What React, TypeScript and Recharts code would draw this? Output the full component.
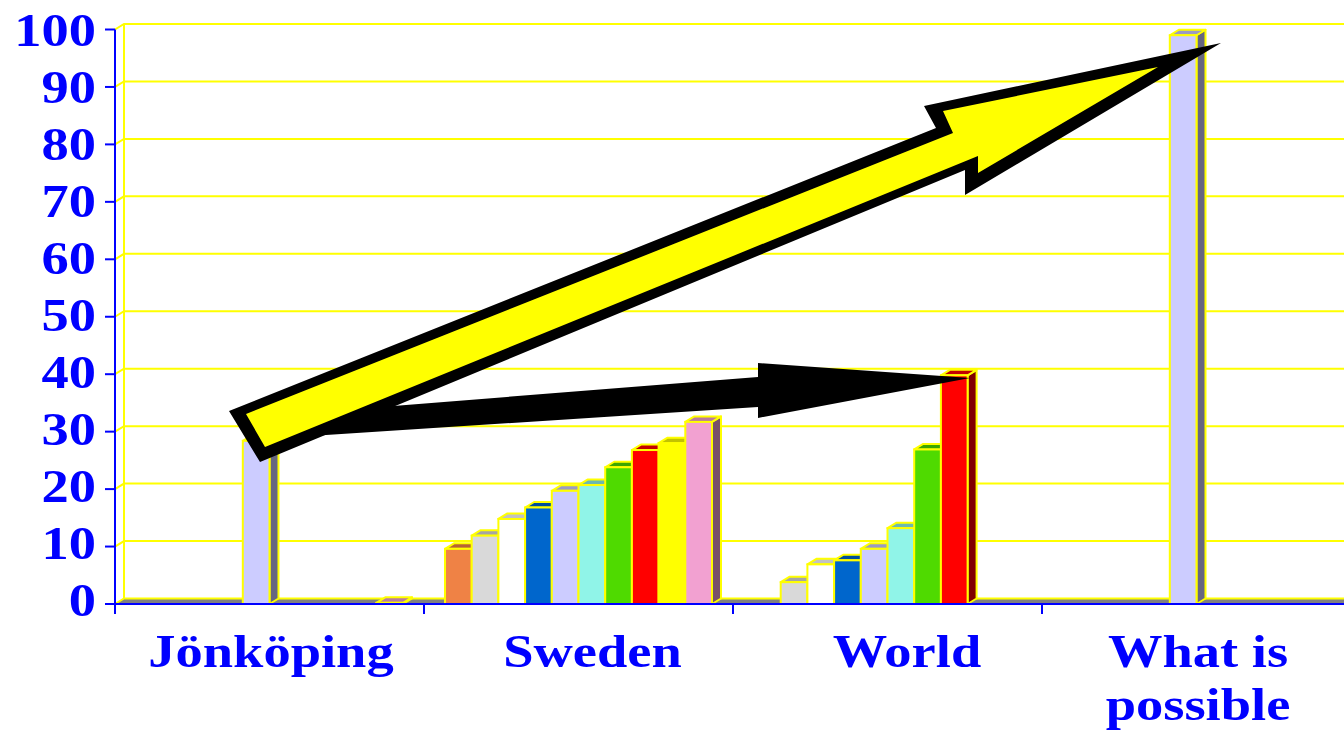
import React from 'react';
import { BarChart, Bar, XAxis, YAxis, CartesianGrid } from 'recharts';

// ---------- data ----------
const CATEGORIES = ['Jönköping', 'Sweden', 'World', 'What is possible'];
const CATEGORY_LINES = [['Jönköping'], ['Sweden'], ['World'], ['What is', 'possible']];
const Y_TICKS = [0, 10, 20, 30, 40, 50, 60, 70, 80, 90, 100];

const ORANGE_VALUES = [null, 9.6, null, null];
const LIGHTGRAY_VALUES = [null, 11.9, 3.8, null];
const WHITE_VALUES = [null, 14.8, 6.9, null];
const BLUE_VALUES = [null, 16.8, 7.6, null];
const LAVENDER_VALUES = [28.4, 19.7, 9.6, 99];
const CYAN_VALUES = [null, 20.7, 13.2, null];
const GREEN_VALUES = [null, 23.8, 26.9, null];
const RED_VALUES = [null, 26.8, 39.8, null];
const YELLOW_VALUES = [null, 28.0, null, null];
const PINK_VALUES = [0.2, 31.7, null, null];

const SERIES = [
  { key: 's1', color: '#EF8245', values: ORANGE_VALUES },
  { key: 's2', color: '#D9D9D9', values: LIGHTGRAY_VALUES },
  { key: 's3', color: '#FFFFFF', values: WHITE_VALUES },
  { key: 's4', color: '#0066CC', values: BLUE_VALUES },
  { key: 's5', color: '#CCCCFF', values: LAVENDER_VALUES },
  { key: 's6', color: '#90F4E8', values: CYAN_VALUES },
  { key: 's7', color: '#4FDA00', values: GREEN_VALUES },
  { key: 's8', color: '#FF0000', values: RED_VALUES },
  { key: 's9', color: '#FFFF00', values: YELLOW_VALUES },
  { key: 's10', color: '#F2A1D1', values: PINK_VALUES },
];

const data = CATEGORIES.map((c, i) => {
  const row: any = { category: c };
  SERIES.forEach((s) => {
    row[s.key] = s.values[i];
  });
  return row;
});

// annotation arrows (overlay drawing, pixel space)
const BLACK_ARROW = [[280, 415], [758, 377], [758, 363], [970, 378], [758, 418], [758, 407], [280, 438]];
const YELLOW_ARROW_OUTER = [[229, 411], [936, 128], [924, 106], [1221, 43], [965, 195], [965, 170], [260, 462]];
const YELLOW_ARROW_INNER = [[246, 414], [953, 133], [943, 111], [1158, 67], [978, 173], [978, 156], [265, 447]];

// ---------- layout ----------
const CHART_W = 1360;
const CHART_H = 731;
const PLOT_LEFT = 115;
const PLOT_TOP = 29.5;
const PLOT_BOTTOM = 604;
const PLOT_RIGHT = 1351;
const BAND = (PLOT_RIGHT - PLOT_LEFT) / CATEGORIES.length;
const DX = 9;
const DY = 5.5;
const FONT = '"Liberation Serif", "Times New Roman", serif';
const FONT_SIZE = 47;
const SX = 1.16;
const LABEL_SCALE = 570 / 574.5;
const X_LABEL_SHIFT = [1.5, 14, 19.5, 1.5];
const BLUE = '#0000FF';
const GRID_YELLOW = '#FFFF00';

function shade(hex: string, f: number) {
  const n = parseInt(hex.slice(1), 16);
  const r = Math.round(((n >> 16) & 255) * f);
  const g = Math.round(((n >> 8) & 255) * f);
  const b = Math.round((n & 255) * f);
  return `rgb(${r},${g},${b})`;
}

const Bar3D = (props: any) => {
  const { x, y, width, height, fill, value } = props;
  if (value == null || height == null || !(height > 0)) return null;
  const top = shade(fill, 0.76);
  const side = shade(fill, 0.5);
  const r = x + width;
  const b = y + height;
  return (
    <g>
      <polygon
        points={`${r},${y} ${r + DX},${y - DY} ${r + DX},${b - DY} ${r},${b}`}
        fill={side}
        stroke={GRID_YELLOW}
        strokeWidth={2}
        strokeLinejoin="round"
      />
      <polygon
        points={`${x},${y} ${x + DX},${y - DY} ${r + DX},${y - DY} ${r},${y}`}
        fill={top}
        stroke={GRID_YELLOW}
        strokeWidth={2}
        strokeLinejoin="round"
      />
      <rect x={x} y={y} width={width} height={height} fill={fill} stroke={GRID_YELLOW} strokeWidth={2} />
    </g>
  );
};

const gridLine = (p: any) => {
  const { x1, y1, x2 } = p;
  const isBottom = Math.abs(y1 - PLOT_BOTTOM) < 1;
  const isTop = Math.abs(y1 - PLOT_TOP) < 1;
  return (
    <g key={p.key}>
      {isBottom && (
        <polygon
          points={`${x1},${y1} ${x1 + DX},${y1 - DY} ${x2},${y1 - DY} ${x2},${y1}`}
          fill="#808080"
        />
      )}
      <polyline
        points={`${x1},${y1} ${x1 + DX},${y1 - DY} ${x2},${y1 - DY}`}
        fill="none"
        stroke={GRID_YELLOW}
        strokeWidth={2}
      />
      {isTop && (
        <line
          x1={x1 + DX}
          y1={y1 - DY}
          x2={x1 + DX}
          y2={PLOT_BOTTOM - DY}
          stroke={GRID_YELLOW}
          strokeWidth={2}
        />
      )}
    </g>
  );
};

const YTick = (p: any) => {
  const { y, payload } = p;
  const ly = PLOT_TOP + (y - PLOT_TOP) * LABEL_SCALE;
  return (
    <g transform={`translate(${PLOT_LEFT - 19},${ly + 16}) scale(${SX},1)`}>
      <text
        x={0}
        y={0}
        textAnchor="end"
        fontFamily={FONT}
        fontWeight="bold"
        fontSize={FONT_SIZE}
        fill={BLUE}
      >
        {payload.value}
      </text>
    </g>
  );
};

const XTick = (p: any) => {
  const { x, payload } = p;
  const idx = CATEGORIES.indexOf(payload.value);
  const lines = CATEGORY_LINES[idx] || [String(payload.value)];
  const shift = X_LABEL_SHIFT[idx] || 0;
  return (
    <g>
      <line x1={x - BAND / 2} y1={PLOT_BOTTOM} x2={x - BAND / 2} y2={PLOT_BOTTOM + 10} stroke={BLUE} strokeWidth={2} />
      {idx === CATEGORIES.length - 1 && (
        <line x1={x + BAND / 2} y1={PLOT_BOTTOM} x2={x + BAND / 2} y2={PLOT_BOTTOM + 10} stroke={BLUE} strokeWidth={2} />
      )}
      {lines.map((l, i) => (
        <g key={i} transform={`translate(${x + shift},${PLOT_BOTTOM + 63 + i * 53}) scale(${SX},1)`}>
          <text x={0} y={0} textAnchor="middle" fontFamily={FONT} fontWeight="bold" fontSize={FONT_SIZE} fill={BLUE}>
            {l}
          </text>
        </g>
      ))}
    </g>
  );
};

const pts = (a: number[][]) => a.map((q) => q.join(',')).join(' ');

export default function App() {
  return (
    <div
      style={{
        position: 'absolute',
        left: 0,
        top: 0,
        width: 1344,
        height: 731,
        overflow: 'hidden',
        background: '#FFFFFF',
      }}
    >
      <BarChart
        width={CHART_W}
        height={CHART_H}
        data={data}
        margin={{ top: PLOT_TOP, right: CHART_W - PLOT_RIGHT, left: 0, bottom: 0 }}
        barGap={0}
        barSize={26.7}
      >
        <CartesianGrid horizontal={gridLine} vertical={false} />
        {SERIES.map((s) => (
          <Bar key={s.key} dataKey={s.key} fill={s.color} shape={Bar3D} isAnimationActive={false} />
        ))}
        <XAxis
          dataKey="category"
          height={CHART_H - PLOT_BOTTOM}
          interval={0}
          tickLine={false}
          axisLine={{ stroke: BLUE, strokeWidth: 2 }}
          tick={XTick}
        />
        <YAxis
          width={PLOT_LEFT}
          domain={[0, 100]}
          ticks={Y_TICKS}
          interval={0}
          tickSize={10}
          tickLine={{ stroke: BLUE, strokeWidth: 2 }}
          axisLine={{ stroke: BLUE, strokeWidth: 2 }}
          tick={YTick}
        />
      </BarChart>
      <svg
        width={1344}
        height={731}
        style={{ position: 'absolute', left: 0, top: 0, pointerEvents: 'none' }}
      >
        <polygon points={pts(BLACK_ARROW)} fill="#000000" />
        <polygon points={pts(YELLOW_ARROW_OUTER)} fill="#000000" />
        <polygon points={pts(YELLOW_ARROW_INNER)} fill="#FFFF00" />
      </svg>
    </div>
  );
}
